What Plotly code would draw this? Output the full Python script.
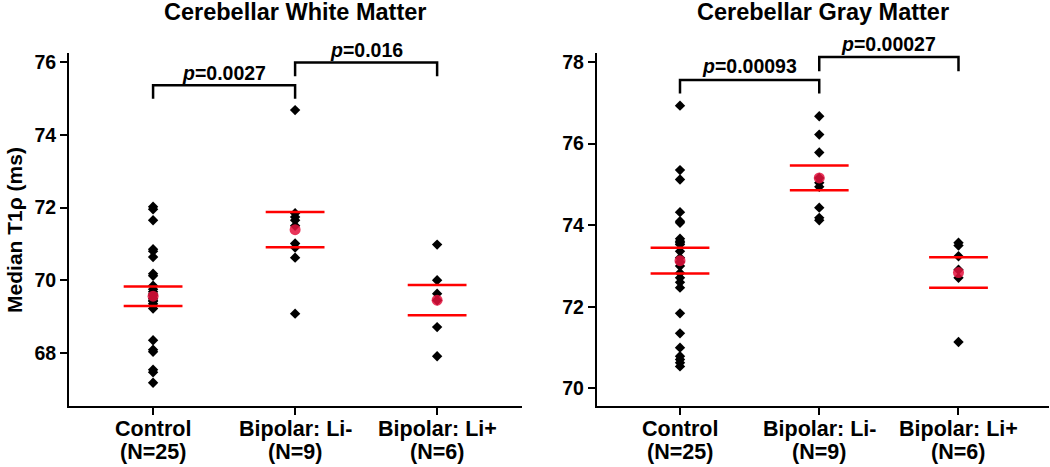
import plotly.graph_objects as go

# ---------------- data ----------------
cat_names = ["Control", "Bipolar: Li-", "Bipolar: Li+"]
cat_counts = ["(N=25)", "(N=9)", "(N=6)"]

wm_control = [72.02, 71.95, 71.65, 70.85, 70.80, 70.64, 70.18, 70.12, 69.85, 69.75,
              69.68, 69.62, 69.58, 69.50, 69.45, 69.42, 69.35, 69.30, 69.22, 68.35,
              68.09, 68.03, 67.54, 67.47, 67.18]
wm_li_neg = [74.68, 71.84, 71.74, 71.65, 71.50, 71.01, 70.90, 70.62, 69.08]
wm_li_pos = [70.98, 70.00, 69.63, 69.45, 68.71, 67.91]
wm_means = [69.56, 71.39, 69.45]
wm_sem = [0.27, 0.485, 0.415]

gm_control = [76.93, 75.35, 75.12, 74.32, 74.10, 74.06, 73.67, 73.61, 73.57, 73.53,
              73.36, 73.20, 73.10, 73.00, 72.83, 72.71, 72.60, 72.47, 71.84, 71.35,
              71.00, 70.79, 70.71, 70.63, 70.54]
gm_li_neg = [76.67, 76.22, 75.78, 75.16, 75.04, 74.94, 74.43, 74.18, 74.12]
gm_li_pos = [73.57, 73.50, 73.24, 72.91, 72.71, 71.14]
gm_means = [73.13, 75.16, 72.84]
gm_sem = [0.315, 0.305, 0.375]

wm_pvals = ["0.0027", "0.016"]
gm_pvals = ["0.00093", "0.00027"]

titles = ["Cerebellar White Matter", "Cerebellar Gray Matter"]
y_title = "Median T1ρ (ms)"
wm_ticks = [68, 70, 72, 74, 76]
gm_ticks = [70, 72, 74, 76, 78]

# ---------------- figure ----------------
FONT = "Liberation Sans, Arial, sans-serif"
WM_RANGE = [66.54, 76.25]
GM_RANGE = [69.57, 78.22]
fig = go.Figure()

def add_panel(groups, means, sem, xa, ya):
    for i, vals in enumerate(groups):
        fig.add_trace(go.Scatter(
            x=[i] * len(vals), y=vals, mode="markers", xaxis=xa, yaxis=ya,
            marker=dict(symbol="diamond", size=8, color="black"),
            showlegend=False, hoverinfo="y"))
    xs = [0, 1, 2]
    ys_up = [m + s for m, s in zip(means, sem)]
    ys_lo = [m - s for m, s in zip(means, sem)]
    fig.add_trace(go.Scatter(
        x=xs + xs, y=ys_up + ys_lo, mode="markers", xaxis=xa, yaxis=ya,
        marker=dict(symbol="line-ew", size=42, color="red",
                    line=dict(color="red", width=2.5)),
        showlegend=False, hoverinfo="y"))
    fig.add_trace(go.Scatter(
        x=xs, y=means, mode="markers", xaxis=xa, yaxis=ya,
        marker=dict(symbol="circle", size=11, color="rgba(228,16,60,0.85)"),
        showlegend=False, hoverinfo="y"))

add_panel([wm_control, wm_li_neg, wm_li_pos], wm_means, wm_sem, "x", "y")
add_panel([gm_control, gm_li_neg, gm_li_pos], gm_means, gm_sem, "x2", "y2")

def bracket(xref, yref, rng, x0, x1, ytop, ybot, label, ytext):
    fig.add_shape(type="path", xref=xref, yref=yref,
                  path=f"M {x0},{ybot} L {x0},{ytop} L {x1},{ytop} L {x1},{ybot}",
                  line=dict(color="black", width=2.5))
    frac = (ytext - rng[0]) / (rng[1] - rng[0])
    fig.add_annotation(xref=xref, yref=yref + " domain", x=(x0 + x1) / 2, y=frac,
                       text=f"<i>p</i>={label}", showarrow=False,
                       font=dict(family=FONT, size=19.5, color="black", weight="bold"),
                       yanchor="middle")

bracket("x", "y", WM_RANGE, 0, 1, 75.36, 74.99, wm_pvals[0], 75.71)
bracket("x", "y", WM_RANGE, 1, 2, 75.99, 75.61, wm_pvals[1], 76.34)
bracket("x2", "y2", GM_RANGE, 0, 1, 77.56, 77.23, gm_pvals[0], 77.90)
bracket("x2", "y2", GM_RANGE, 1, 2, 78.12, 77.77, gm_pvals[1], 78.43)

xaxis_common = dict(
    tickvals=[0, 1, 2], ticktext=["", "", ""], showline=True, linecolor="black",
    linewidth=2, ticks="outside", ticklen=7, tickwidth=2, tickcolor="black",
    showgrid=False, zeroline=False)
yaxis_common = dict(
    showline=True, linecolor="black", linewidth=2, ticks="outside", ticklen=7,
    tickwidth=2, tickcolor="black", showgrid=False, zeroline=False,
    tickfont=dict(family=FONT, size=19.5, color="black", weight="bold"))

fig.update_layout(
    width=1050, height=467,
    margin=dict(l=69, r=1, t=53, b=61),
    paper_bgcolor="white", plot_bgcolor="white",
    xaxis=dict(domain=[0, 0.462], range=[-0.592, 2.596], anchor="y", **xaxis_common),
    yaxis=dict(range=WM_RANGE, tickvals=wm_ticks, anchor="x", **yaxis_common),
    xaxis2=dict(domain=[0.5385, 1], range=[-0.598, 2.65], anchor="y2", **xaxis_common),
    yaxis2=dict(range=GM_RANGE, tickvals=gm_ticks, anchor="x2", **yaxis_common),
)

# category labels (two lines) under each panel
for xa in ["x", "x2"]:
    for i, (nm, cnt) in enumerate(zip(cat_names, cat_counts)):
        fig.add_annotation(xref=xa, yref="paper", x=i, y=-0.066, text=nm,
                           showarrow=False, xanchor="center", yanchor="middle",
                           font=dict(family=FONT, size=21.5, color="black", weight="bold"))
        fig.add_annotation(xref=xa, yref="paper", x=i, y=-0.130, text=cnt,
                           showarrow=False, xanchor="center", yanchor="middle",
                           font=dict(family=FONT, size=21.5, color="black", weight="bold"))

for title, dom in zip(titles, [[0, 0.462], [0.5385, 1]]):
    fig.add_annotation(xref="paper", yref="paper", x=(dom[0] + dom[1]) / 2, y=1.117,
                       text=title, showarrow=False, xanchor="center", yanchor="middle",
                       font=dict(family=FONT, size=23.5, color="black", weight="bold"))

fig.add_annotation(xref="paper", yref="paper", x=-0.0557, y=0.5, text=y_title,
                   textangle=-90, showarrow=False, xanchor="center", yanchor="middle",
                   borderpad=0,
                   font=dict(family=FONT, size=21, color="black", weight="bold"))

fig.write_html("out.html", config={"displayModeBar": False},
               post_script="document.body.style.margin='0';")
